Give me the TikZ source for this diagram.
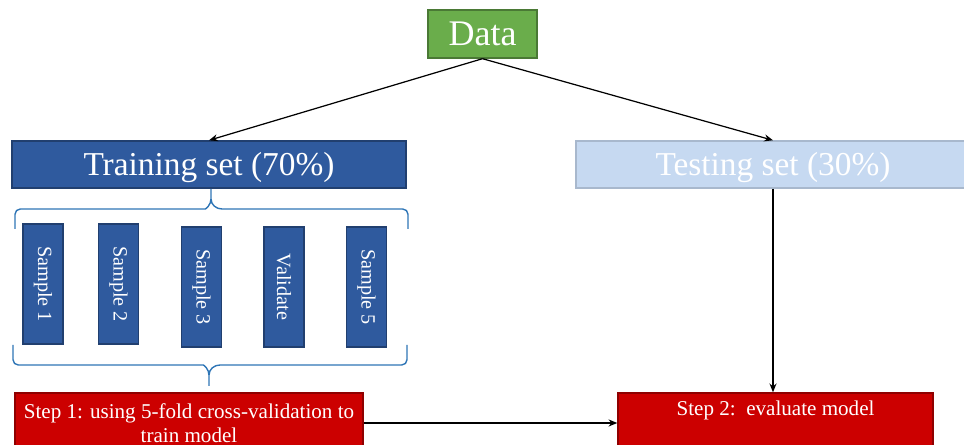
\documentclass[tikz,border=0pt]{standalone}
\usepackage{fontspec}
\setmainfont{Liberation Serif}
\usetikzlibrary{arrows.meta}

\definecolor{datagreen}{HTML}{6AAD4B}
\definecolor{trainblue}{HTML}{2F5A9E}
\definecolor{testblue}{HTML}{C6D9F1}
\definecolor{stepred}{HTML}{CC0000}
\definecolor{bracecol}{HTML}{2E75B6}

\begin{document}
\begin{tikzpicture}[x=0.02cm, y=-0.02cm,
	box/.style={draw=#1!70!black, fill=#1, line width=0.8pt, text=white, inner sep=2pt},
	setbox/.style={minimum width=7.88cm, minimum height=0.94cm, text height=14pt, text depth=1.7pt, font=\fontsize{19}{21}\selectfont},
	arr/.style={-{Stealth[length=5pt,width=4pt]}, line width=0.7pt},
	brace/.style={bracecol, line width=0.8pt}]
	\useasboundingbox (0,0) rectangle (964,445);
	\clip (0,0) rectangle (964,445);
	
	%Kaesten oben
	\node[box=datagreen, minimum width=2.18cm, minimum height=0.96cm, font=\fontsize{20.5}{22}\selectfont] (data) at (482.5,34) {Data};
	\node[box=trainblue, setbox] (train) at (209,164.5) {Training set (70\%)};
	\node[box=testblue, draw=testblue!85!black, setbox] (test) at (773,164.5) {Testing set (30\%)};
	
	%Folds
	\foreach \x/\y/\t/\n in {43/284/Sample 1/smp1, 118.5/284/Sample 2/smp2, 201.5/287/Sample 3/smp3, 284/287/Validate/smp4, 366.5/287/Sample 5/smp5}{
		\node[box=trainblue, minimum width=2.4cm, minimum height=0.8cm, rotate=-90, font=\fontsize{11.5}{13}\selectfont] (\n) at (\x,\y) {\t};
	}
	
	%Schritte
	\node[box=stepred, minimum width=6.96cm, minimum height=1.2cm, align=center, font=\fontsize{12}{14}\selectfont] (st1) at (189,423) {Step 1: using 5-fold cross-validation to\\train model};
	\node[box=stepred, minimum width=6.3cm, minimum height=1.2cm, text height=9pt, text depth=17pt, font=\fontsize{12}{14}\selectfont] (st2) at (775.5,423) {Step 2:\ \ evaluate model};
	
	%Klammern
	\draw[brace] (15,229) [rounded corners=3pt] |- (200,209) [sharp corners] to[out=0,in=-90] (211,199) -- (211,189) -- (211,199) to[out=-90,in=180] (222,209) [rounded corners=3pt] -| (408,229);
	\draw[brace] (13,345) [rounded corners=3pt] |- (198,365) [sharp corners] to[out=0,in=90] (209,375) -- (209,386) -- (209,375) to[out=90,in=180] (220,365) [rounded corners=3pt] -| (407,345);
	
	%Pfeile
	\draw[arr] (data.south) -- (train.north);
	\draw[arr] (data.south) -- (test.north);
	\draw[arr] (test.south) -- (test.south |- st2.north);
	\draw[arr] (st1.east) -- (st1.east -| st2.west);
\end{tikzpicture}
\end{document}
